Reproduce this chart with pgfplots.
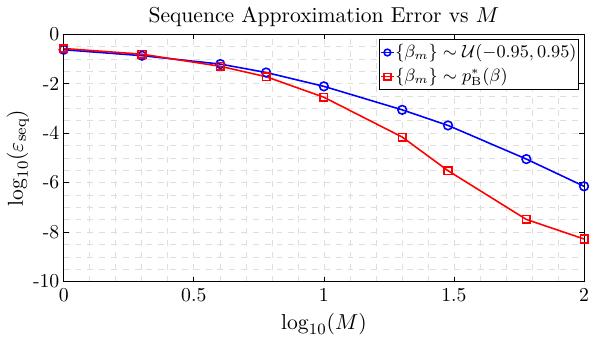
\documentclass[border=0pt]{standalone}
\usepackage{pgfplots}
\pgfplotsset{compat=1.18}
\begin{document}
\begin{tikzpicture}
\begin{axis}[
 scale only axis, width=264pt, height=125.5pt,
 xmin=0,xmax=2,ymin=-10,ymax=0,
 xtick={0,0.5,1,1.5,2}, ytick={-10,-8,-6,-4,-2,0},
 xticklabels={0,0.5,1,1.5,2}, yticklabels={-10,-8,-6,-4,-2,0},
 minor x tick num=4, minor y tick num=3,
 grid=both,
 major grid style={dashed, black!13, line width=0.3pt},
 minor grid style={dashed, black!13, line width=0.3pt},
 tick align=inside, major tick length=2.5pt, minor tick length=0pt,
 tick style={black, line width=0.35pt},
 ticklabel style={font=\normalsize},
 x tick label style={inner xsep=0pt},
 y tick label style={inner xsep=2pt},
 title={Sequence Approximation Error vs $M$},
 title style={font=\fontsize{10.95}{13}\selectfont, yshift=-5.5pt},
 xlabel={$\log_{10}(M)$}, ylabel={$\log_{10}(\varepsilon_{\mathrm{seq}})$},
 label style={font=\fontsize{10.95}{13}\selectfont},
 xlabel style={yshift=1pt},
 ylabel style={yshift=-3.5pt},
 legend style={at={(rel axis cs:0.99,0.98)}, anchor=north east,
   font=\fontsize{9}{11}\selectfont, draw=black, inner xsep=0.5pt, inner ysep=0.5pt, row sep=0pt,
   line width=0.35pt, nodes={inner xsep=0.5pt, inner ysep=2pt}},
 legend cell align=left,
 legend image code/.code={\draw[mark repeat=2,mark phase=2,mark size=1.7pt] plot coordinates {(0cm,0cm) (0.11cm,0cm) (0.22cm,0cm)};},
 axis line style={line width=0.45pt},
 every axis plot/.append style={line width=0.8pt},
]
\addplot[blue, mark=o, mark size=2.2pt] coordinates {
(0,-0.63) (0.30103,-0.87) (0.60206,-1.21) (0.778151,-1.55) (1,-2.11) (1.30103,-3.06) (1.477121,-3.69) (1.778151,-5.05) (2,-6.15)};
\addlegendentry{$\{\beta_m\}\sim\mathcal{U}(-0.95,0.95)$}
\addplot[red, mark=square, mark size=1.9pt] coordinates {
(0,-0.58) (0.30103,-0.81) (0.60206,-1.30) (0.778151,-1.72) (1,-2.55) (1.30103,-4.16) (1.477121,-5.52) (1.778151,-7.49) (2,-8.28)};
\addlegendentry{$\{\beta_m\}\sim p^*_{\mathrm{B}}(\beta)$}
\end{axis}
\end{tikzpicture}
\end{document}
